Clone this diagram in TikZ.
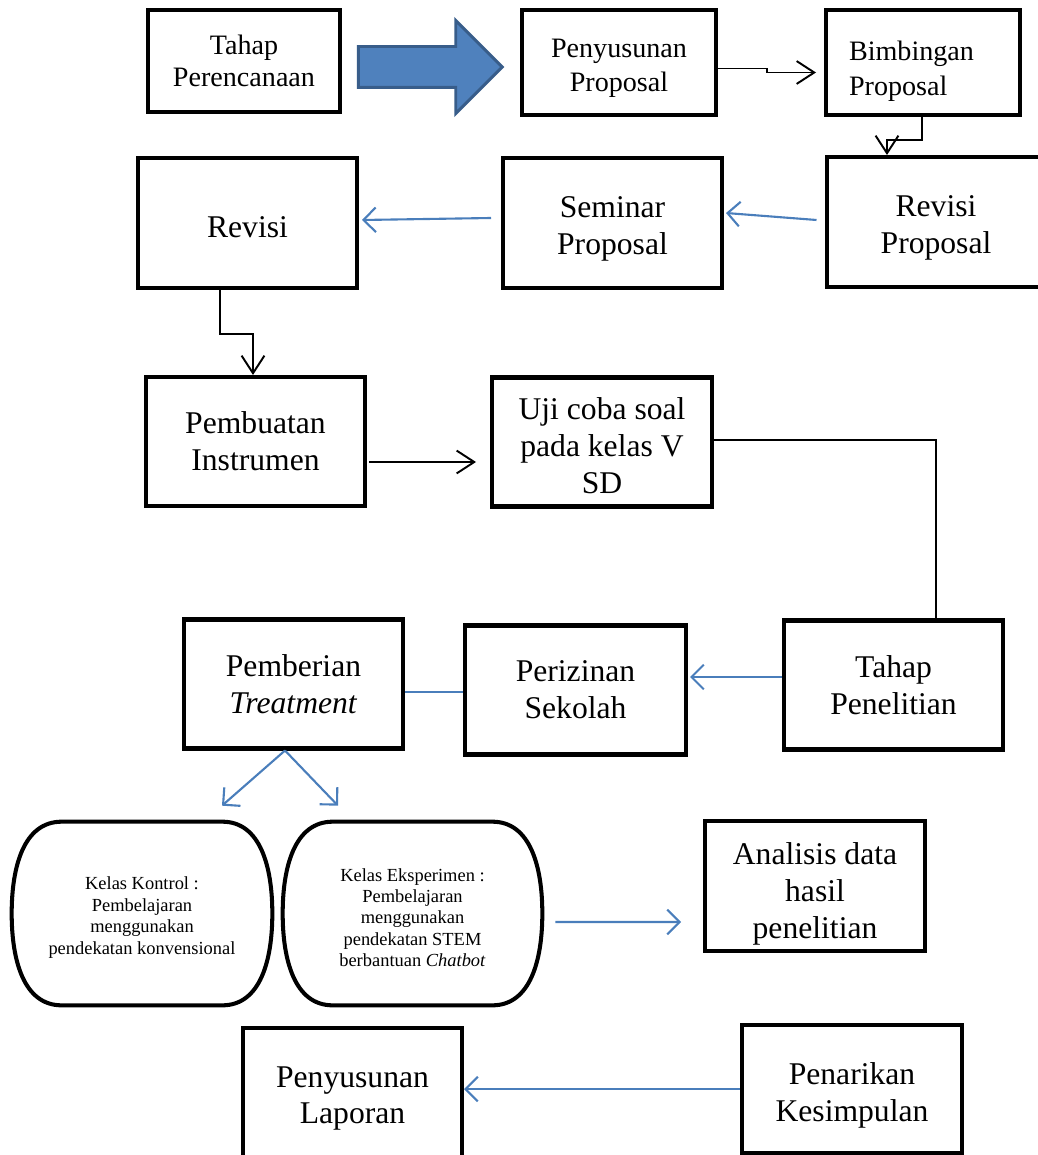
\documentclass[tikz,border=0pt]{standalone}
\usepackage{fontspec}
\setmainfont{Liberation Serif}
\usetikzlibrary{arrows.meta,shapes.arrows}

\definecolor{garisbiru}{RGB}{74,126,187}
\definecolor{isipanah}{RGB}{79,129,189}
\definecolor{tepipanah}{RGB}{56,93,138}

% outline of the two class nodes
\newcommand{\kelasbentuk}[1]{%
  \draw[line width=2.3pt] ([shift={(50,0)}]#1.north west) -- ([shift={(-50,0)}]#1.north east)
    .. controls ([shift={(-12,0)}]#1.north east) and ([shift={(0,45)}]#1.north east) .. (#1.east)
    .. controls ([shift={(0,-45)}]#1.south east) and ([shift={(-12,0)}]#1.south east) .. ([shift={(-50,0)}]#1.south east)
    -- ([shift={(50,0)}]#1.south west)
    .. controls ([shift={(12,0)}]#1.south west) and ([shift={(0,-45)}]#1.south west) .. (#1.west)
    .. controls ([shift={(0,45)}]#1.north west) and ([shift={(12,0)}]#1.north west) .. cycle;}

\begin{document}
\begin{tikzpicture}[x=0.02cm, y=-0.02cm,
    turun/.style={execute at begin node={\rule{0pt}{#1}}},
    kotakdasar/.style={draw, line width=2.3pt, align=center, minimum width=4.38cm, minimum height=2.58cm, font=\fontsize{18}{21}\selectfont},
    kotak/.style={kotakdasar, align=flush center, text width=4cm, turun=17pt},
    kotakatas/.style={kotak, text width=3.3cm, minimum width=3.88cm, minimum height=2.1cm, font=\fontsize{16}{19.5}\selectfont, turun=14.5pt},
    kelas/.style={align=flush center, text width=4.9cm, minimum width=5.2cm, minimum height=3.66cm, font=\fontsize{10.5}{12.2}\selectfont, turun=12pt},
    hitam/.style={line width=1.1pt, -{Straight Barb[length=10pt,width=13pt]}},
    biru/.style={garisbiru, line width=1.2pt, -{Straight Barb[length=7pt,width=14pt]}},
    garis/.style={line width=1.1pt}]
    \useasboundingbox (0,0) rectangle (1037,1155);

    % Tahap perencanaan
    \node[kotakdasar, minimum width=3.84cm, minimum height=2.04cm, font=\fontsize{16}{18.5}\selectfont] (tahap) at (244,61) {Tahap\\Perencanaan};
    \node[single arrow, draw=tepipanah, fill=isipanah, line width=1.7pt, minimum height=2.88cm,
          inner xsep=0pt, inner ysep=0.38cm, single arrow head extend=0.52cm,
          single arrow head indent=0pt] (panah) at (420,67) {};
    \node[kotakatas] (penyusunan) at (619,62.5) {Penyusunan\\Proposal};
    \node[kotakatas, text width=2.96cm, align=left, turun=21pt] (bimbingan) at (923,62.5) {Bimbingan\\Proposal};
    \node[kotak, minimum height=2.6cm, turun=19pt] (revprop) at (936,222) {Revisi\\Proposal};
    \node[kotak, minimum height=2.6cm, turun=19pt] (seminar) at (612.5,223) {Seminar\\Proposal};
    \node[kotak, minimum height=2.6cm, turun=14pt] (revisi) at (247.5,223) {Revisi};
    \node[kotakdasar] (pembuatan) at (255.5,441.5) {Pembuatan\\Instrumen};
    \node[kotak, minimum width=4.4cm] (ujicoba) at (602,442) {Uji coba soal\\pada kelas V\\SD};

    % Tahap penelitian
    \node[kotakdasar] (tahappen) at (893.5,685) {Tahap\\Penelitian};
    \node[kotakdasar, minimum width=4.42cm] (perizinan) at (575.5,690) {Perizinan\\Sekolah};
    \node[kotakdasar] (pemberian) at (293.5,684) {Pemberian\\\textit{Treatment}};
    \node[kelas] (kontrol) at (142,913.5) {Kelas Kontrol :\\Pembelajaran\\menggunakan\\pendekatan konvensional};
    \node[kelas, minimum width=5.18cm] (eksperimen) at (412.5,913.5) {Kelas Eksperimen :\\Pembelajaran\\menggunakan\\pendekatan STEM\\berbantuan \textit{Chatbot}};
    \kelasbentuk{kontrol}
    \kelasbentuk{eksperimen}
    \node[kotak, minimum width=4.4cm, minimum height=2.56cm, turun=21.5pt] (analisis) at (815,886) {Analisis data\\hasil\\penelitian};
    \node[kotak, minimum height=2.6cm, turun=18pt] (laporan) at (352.5,1093) {Penyusunan\\Laporan};
    \node[kotak, minimum width=4.4cm, minimum height=2.56cm, turun=19.5pt] (kesimpulan) at (852,1089) {Penarikan\\Kesimpulan};

    % Connectors
    \draw[hitam] ([shift={(0,6)}]penyusunan.east) -- ++(49,0) |- ([shift={(-8,10)}]bimbingan.west);
    \draw[hitam] ([shift={(-1,0)}]bimbingan.south) -- ++(0,23) -| ([shift={(-49,0)}]revprop.north);
    \draw[biru] ([shift={(-8,-2)}]revprop.west) -- ([shift={(2,-10)}]seminar.east);
    \draw[biru] ([shift={(-10,-5)}]seminar.west) -- ([shift={(3,-3)}]revisi.east);
    \draw[hitam] ([shift={(-27.5,0)}]revisi.south) -- ++(0,44) -| ([shift={(-2.5,0)}]pembuatan.north);
    \draw[hitam] ([shift={(2,20.5)}]pembuatan.east) -- ([shift={(-14,20)}]ujicoba.west);
    \draw[garis] ([shift={(0,-2)}]ujicoba.east) -| ([shift={(42.5,0)}]tahappen.north);
    \draw[biru] ([shift={(0,-8)}]tahappen.west) -- ([shift={(2,-13)}]perizinan.east);
    \draw[garisbiru, line width=1.2pt] ([shift={(0,2)}]perizinan.west) -- ([shift={(0,8)}]pemberian.east);
    \draw[biru] ([shift={(-8.5,0)}]pemberian.south) -- ([shift={(80,-16)}]kontrol.north);
    \draw[biru] ([shift={(-8.5,0)}]pemberian.south) -- ([shift={(-74.5,-16)}]eksperimen.north);
    \draw[biru] ([shift={(13,8.5)}]eksperimen.east) -- ([shift={(-22,36)}]analisis.west);
    \draw[biru] (kesimpulan.west) -- ([shift={(0,-4)}]laporan.east);
\end{tikzpicture}
\end{document}
